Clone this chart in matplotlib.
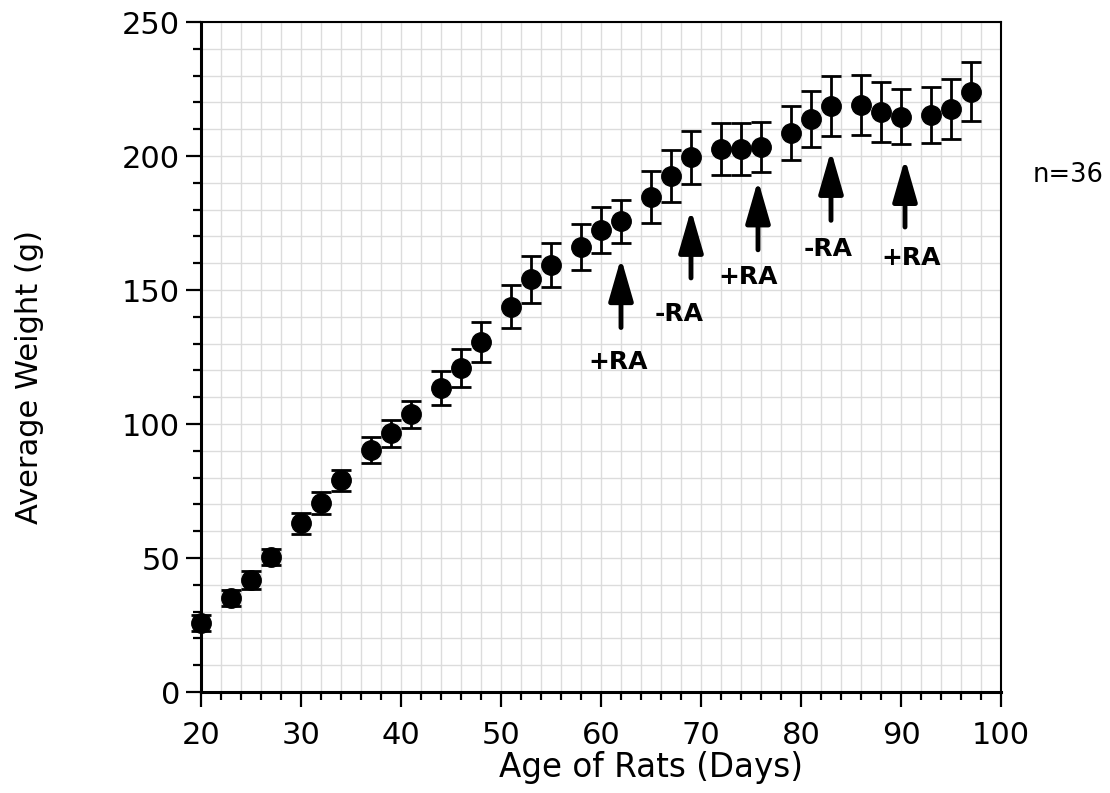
import numpy as np
import matplotlib
matplotlib.use("Agg")
import matplotlib.pyplot as plt
from matplotlib.ticker import MultipleLocator

# age (days), mean weight (g), error (g)
age = [20, 23, 25, 27, 30, 32, 34, 37, 39, 41, 44, 46, 48, 51, 53, 55, 58,
       60, 62, 65, 67, 69, 72, 74, 76, 79, 81, 83, 86, 88, 90, 93, 95, 97]
weight = [25.7, 35.0, 41.8, 50.4, 63.0, 70.5, 79.0, 90.3, 96.6, 103.6,
          113.4, 120.8, 130.6, 143.8, 154.0, 159.3, 166.0, 172.4, 175.7,
          184.7, 192.5, 199.6, 202.6, 202.6, 203.4, 208.6, 213.8, 218.7,
          219.0, 216.4, 214.6, 215.3, 217.5, 223.9]
err = [3.0, 3.0, 3.3, 3.1, 3.9, 4.2, 3.9, 4.7, 5.0, 5.1, 6.2, 7.0, 7.6,
       8.0, 8.7, 8.2, 8.5, 8.6, 8.0, 9.7, 9.7, 9.9, 9.7, 9.7, 9.3, 10.1,
       10.4, 11.2, 11.2, 11.2, 10.3, 10.4, 11.2, 11.0]

# treatment arrows: x, tail y, tip y ; labels: text, x, y
arrow_x = [62, 69, 75.7, 83, 90.4]
arrow_tail = [136, 154.5, 165, 176, 173.5]
arrow_tip = [162, 180, 191, 202, 199]
ra_text = ["+RA", "-RA", "+RA", "-RA", "+RA"]
ra_x = [61.7, 67.8, 74.7, 82.7, 91.0]
ra_y = [123, 141, 155, 165.3, 162]

fig = plt.figure(figsize=(11.1, 7.93), dpi=100)
ax = fig.add_axes([201/1110, 1 - 692/793, 800/1110, 670/793])

ax.set_xlim(20, 100)
ax.set_ylim(0, 250)

# graph paper grid
ax.xaxis.set_major_locator(MultipleLocator(10))
ax.xaxis.set_minor_locator(MultipleLocator(2))
ax.yaxis.set_major_locator(MultipleLocator(50))
ax.yaxis.set_minor_locator(MultipleLocator(10))
ax.grid(which='both', color='#dcdcdc', lw=1.0)
ax.set_axisbelow(True)

ax.errorbar(age, weight, yerr=err, fmt='o', color='black', ms=14,
            ecolor='black', elinewidth=2, capsize=7.5, capthick=2,
            zorder=3, clip_on=False)

for x, t0, t1 in zip(arrow_x, arrow_tail, arrow_tip):
    ax.annotate('', xy=(x, t1), xytext=(x, t0),
                arrowprops=dict(arrowstyle='-|>,head_length=2.6,head_width=0.75',
                                lw=3.5, color='black', mutation_scale=10,
                                shrinkA=0, shrinkB=0))

for s, x, y in zip(ra_text, ra_x, ra_y):
    ax.text(x, y, s, fontsize=18, fontweight='bold', ha='center', va='center')

fig.text(1033/1110, 1 - 175/793, 'n=36', fontsize=18.5, ha='left', va='center')

for side in ['left', 'bottom']:
    ax.spines[side].set_linewidth(2.2)
for side in ['top', 'right']:
    ax.spines[side].set_linewidth(1.5)

ax.tick_params(which='major', direction='out', length=11, width=1.6,
               labelsize=22, pad=4)
ax.tick_params(axis='x', which='major', pad=10)
ax.tick_params(which='minor', direction='out', length=5.5, width=1.6)

ax.set_xlabel('Age of Rats (Days)', fontsize=23.5, va='center')
ax.set_ylabel('Average Weight (g)', fontsize=22, va='center')
ax.xaxis.set_label_coords(0.5625, -0.113)
ax.yaxis.set_label_coords(-0.214, 0.47)

fig.savefig('out.png', dpi=100)
